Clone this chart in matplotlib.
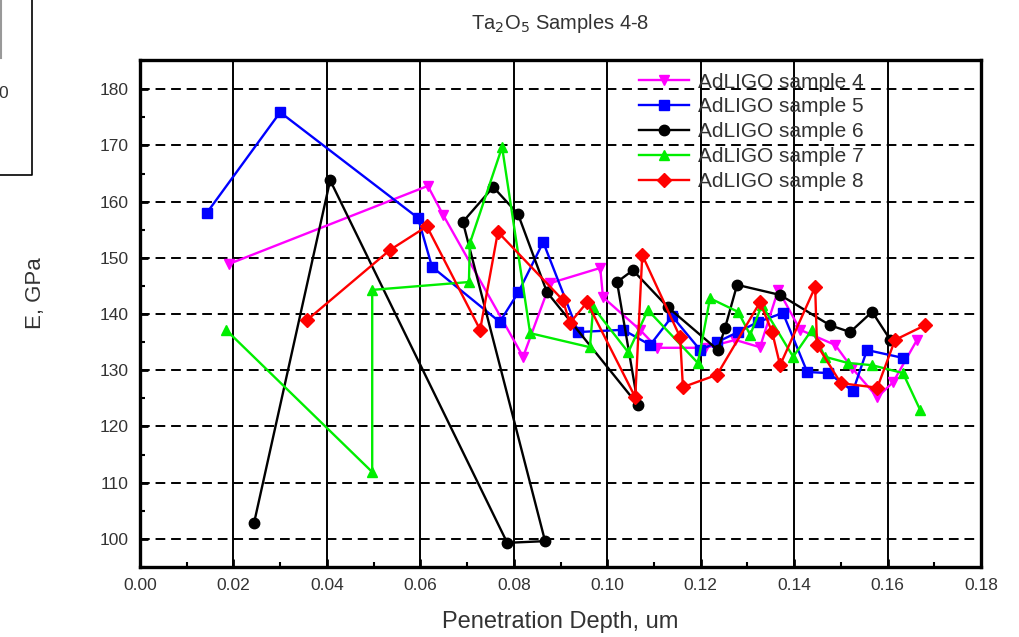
import matplotlib
matplotlib.use("Agg")
import matplotlib.pyplot as plt
from matplotlib.ticker import MultipleLocator
from matplotlib.lines import Line2D

plt.rcParams['font.family'] = ['Liberation Sans', 'DejaVu Sans']

# ---- data ----
s4_x = [0.019, 0.0616, 0.0649, 0.082, 0.0878, 0.0985, 0.0991, 0.107, 0.1107, 0.121,
        0.1274, 0.1327, 0.1366, 0.1413, 0.1488, 0.1524, 0.1578, 0.1612, 0.1663]
s4_y = [148.9, 162.8, 157.6, 132.4, 145.5, 148.2, 143.0, 137.2, 134.0, 134.0,
        135.4, 134.1, 144.3, 137.2, 134.5, 130.4, 125.2, 127.9, 135.4]

s5_x = [0.0143, 0.030, 0.0595, 0.0625, 0.077, 0.081, 0.0863, 0.0938, 0.1034, 0.1092,
        0.1139, 0.1199, 0.1235, 0.128, 0.1323, 0.1376, 0.1428, 0.1473, 0.1526, 0.1556, 0.1633]
s5_y = [158.0, 175.9, 157.1, 148.4, 138.6, 143.9, 152.8, 136.8, 137.2, 134.5,
        139.6, 133.6, 135.0, 136.8, 138.6, 140.2, 129.7, 129.5, 126.3, 133.6, 132.2]

s6_x = [0.0244, 0.0407, 0.0786, 0.0867, 0.0691, 0.0756, 0.0809, 0.0871, 0.1066, 0.1021,
        0.1055, 0.113, 0.1237, 0.1252, 0.1278, 0.137, 0.1477, 0.152, 0.1567, 0.1606]
s6_y = [102.8, 163.8, 99.3, 99.6, 156.4, 162.6, 157.8, 143.9, 123.8, 145.7,
        147.8, 141.2, 133.6, 137.5, 145.2, 143.4, 138.0, 136.8, 140.4, 135.4]

s7_x = [0.0184, 0.0497, 0.0497, 0.0704, 0.0706, 0.0775, 0.0835, 0.0963, 0.097, 0.1045,
        0.1087, 0.1194, 0.122, 0.128, 0.1306, 0.1331, 0.1398, 0.1438, 0.1466, 0.1515,
        0.1567, 0.1633, 0.167]
s7_y = [137.2, 111.9, 144.3, 145.7, 152.6, 169.7, 136.6, 134.1, 141.2, 133.2,
        140.7, 131.3, 142.8, 140.4, 136.3, 141.6, 132.4, 137.2, 132.4, 131.3,
        130.9, 129.5, 122.9]

s8_x = [0.0357, 0.0535, 0.0614, 0.0728, 0.0766, 0.0905, 0.092, 0.0957, 0.106, 0.1075,
        0.1156, 0.1162, 0.1235, 0.1327, 0.1353, 0.137, 0.1445, 0.1449, 0.150, 0.1578,
        0.1616, 0.168]
s8_y = [138.9, 151.4, 155.6, 137.2, 154.6, 142.5, 138.4, 142.1, 125.2, 150.5,
        135.9, 127.0, 129.2, 142.1, 136.8, 130.9, 144.8, 134.5, 127.7, 126.9,
        135.4, 138.0]

labels = ["AdLIGO sample 4", "AdLIGO sample 5", "AdLIGO sample 6",
          "AdLIGO sample 7", "AdLIGO sample 8"]

series = [(s4_x, s4_y, '#ff00ff', 'v'),
          (s5_x, s5_y, '#0000ff', 's'),
          (s6_x, s6_y, '#000000', 'o'),
          (s7_x, s7_y, '#00ee00', '^'),
          (s8_x, s8_y, '#ff0000', 'D')]

fig = plt.figure(figsize=(10.19, 6.37), dpi=100)
ax = fig.add_axes([140/1019, 1-567/637, (981-140)/1019, (567-60)/637])

for (xs, ys, c, m), lab in zip(series, labels):
    ms = 7.5 if m != 'D' else 7
    ax.plot(xs, ys, color=c, marker=m, markersize=ms, lw=1.7, label=lab,
            markeredgecolor=c, zorder=3)

ax.set_xlim(0, 0.18)
ax.set_ylim(95.0, 185.2)
ax.xaxis.set_major_locator(MultipleLocator(0.02))
ax.xaxis.set_minor_locator(MultipleLocator(0.01))
ax.yaxis.set_major_locator(MultipleLocator(10))
ax.yaxis.set_minor_locator(MultipleLocator(5))
ax.xaxis.set_major_formatter(matplotlib.ticker.FormatStrFormatter('%.2f'))

ax.tick_params(which='major', direction='in', length=6, width=2.0,
               labelsize=12.5, labelcolor='#333333', pad=8)
ax.tick_params(which='minor', direction='in', length=3.5, width=1.5)

ax.xaxis.grid(True, which='major', color='black', lw=1.4, ls='-', zorder=1)
ax.yaxis.grid(True, which='major', color='black', lw=1.4, ls=(0, (5, 3)), zorder=1)
ax.set_axisbelow(True)

for sp in ax.spines.values():
    sp.set_linewidth(2.4)

ax.set_xlabel("Penetration Depth, um", fontsize=17, color='#333333', labelpad=13)
ax.set_ylabel("E, GPa", fontsize=16, color='#333333')
ax.yaxis.set_label_coords(-0.112, 0.54)
ax.set_title("Ta$_2$O$_5$ Samples 4-8", fontsize=14.5, color='#333333', pad=22)

leg = ax.legend(loc='upper left', bbox_to_anchor=(0.578, 1.0), frameon=False,
                fontsize=15, handlelength=2.4, labelspacing=0.28,
                handletextpad=0.45, borderaxespad=0.2)
for t in leg.get_texts():
    t.set_color('#333333')

# leftover fragment in the top-left corner of the picture
fig.add_artist(Line2D([0, 32/1019, 32/1019], [1-175/637, 1-175/637, 1.0],
                      transform=fig.transFigure, color='black', lw=1.2))
fig.add_artist(Line2D([1/1019, 1/1019], [1.0, 1-58/637],
                      transform=fig.transFigure, color='#999999', lw=1.5))
fig.text(3/1019, 1-93/637, "0", fontsize=12.5, color='#333333', ha='center', va='center')

fig.savefig("out.png", dpi=100)
